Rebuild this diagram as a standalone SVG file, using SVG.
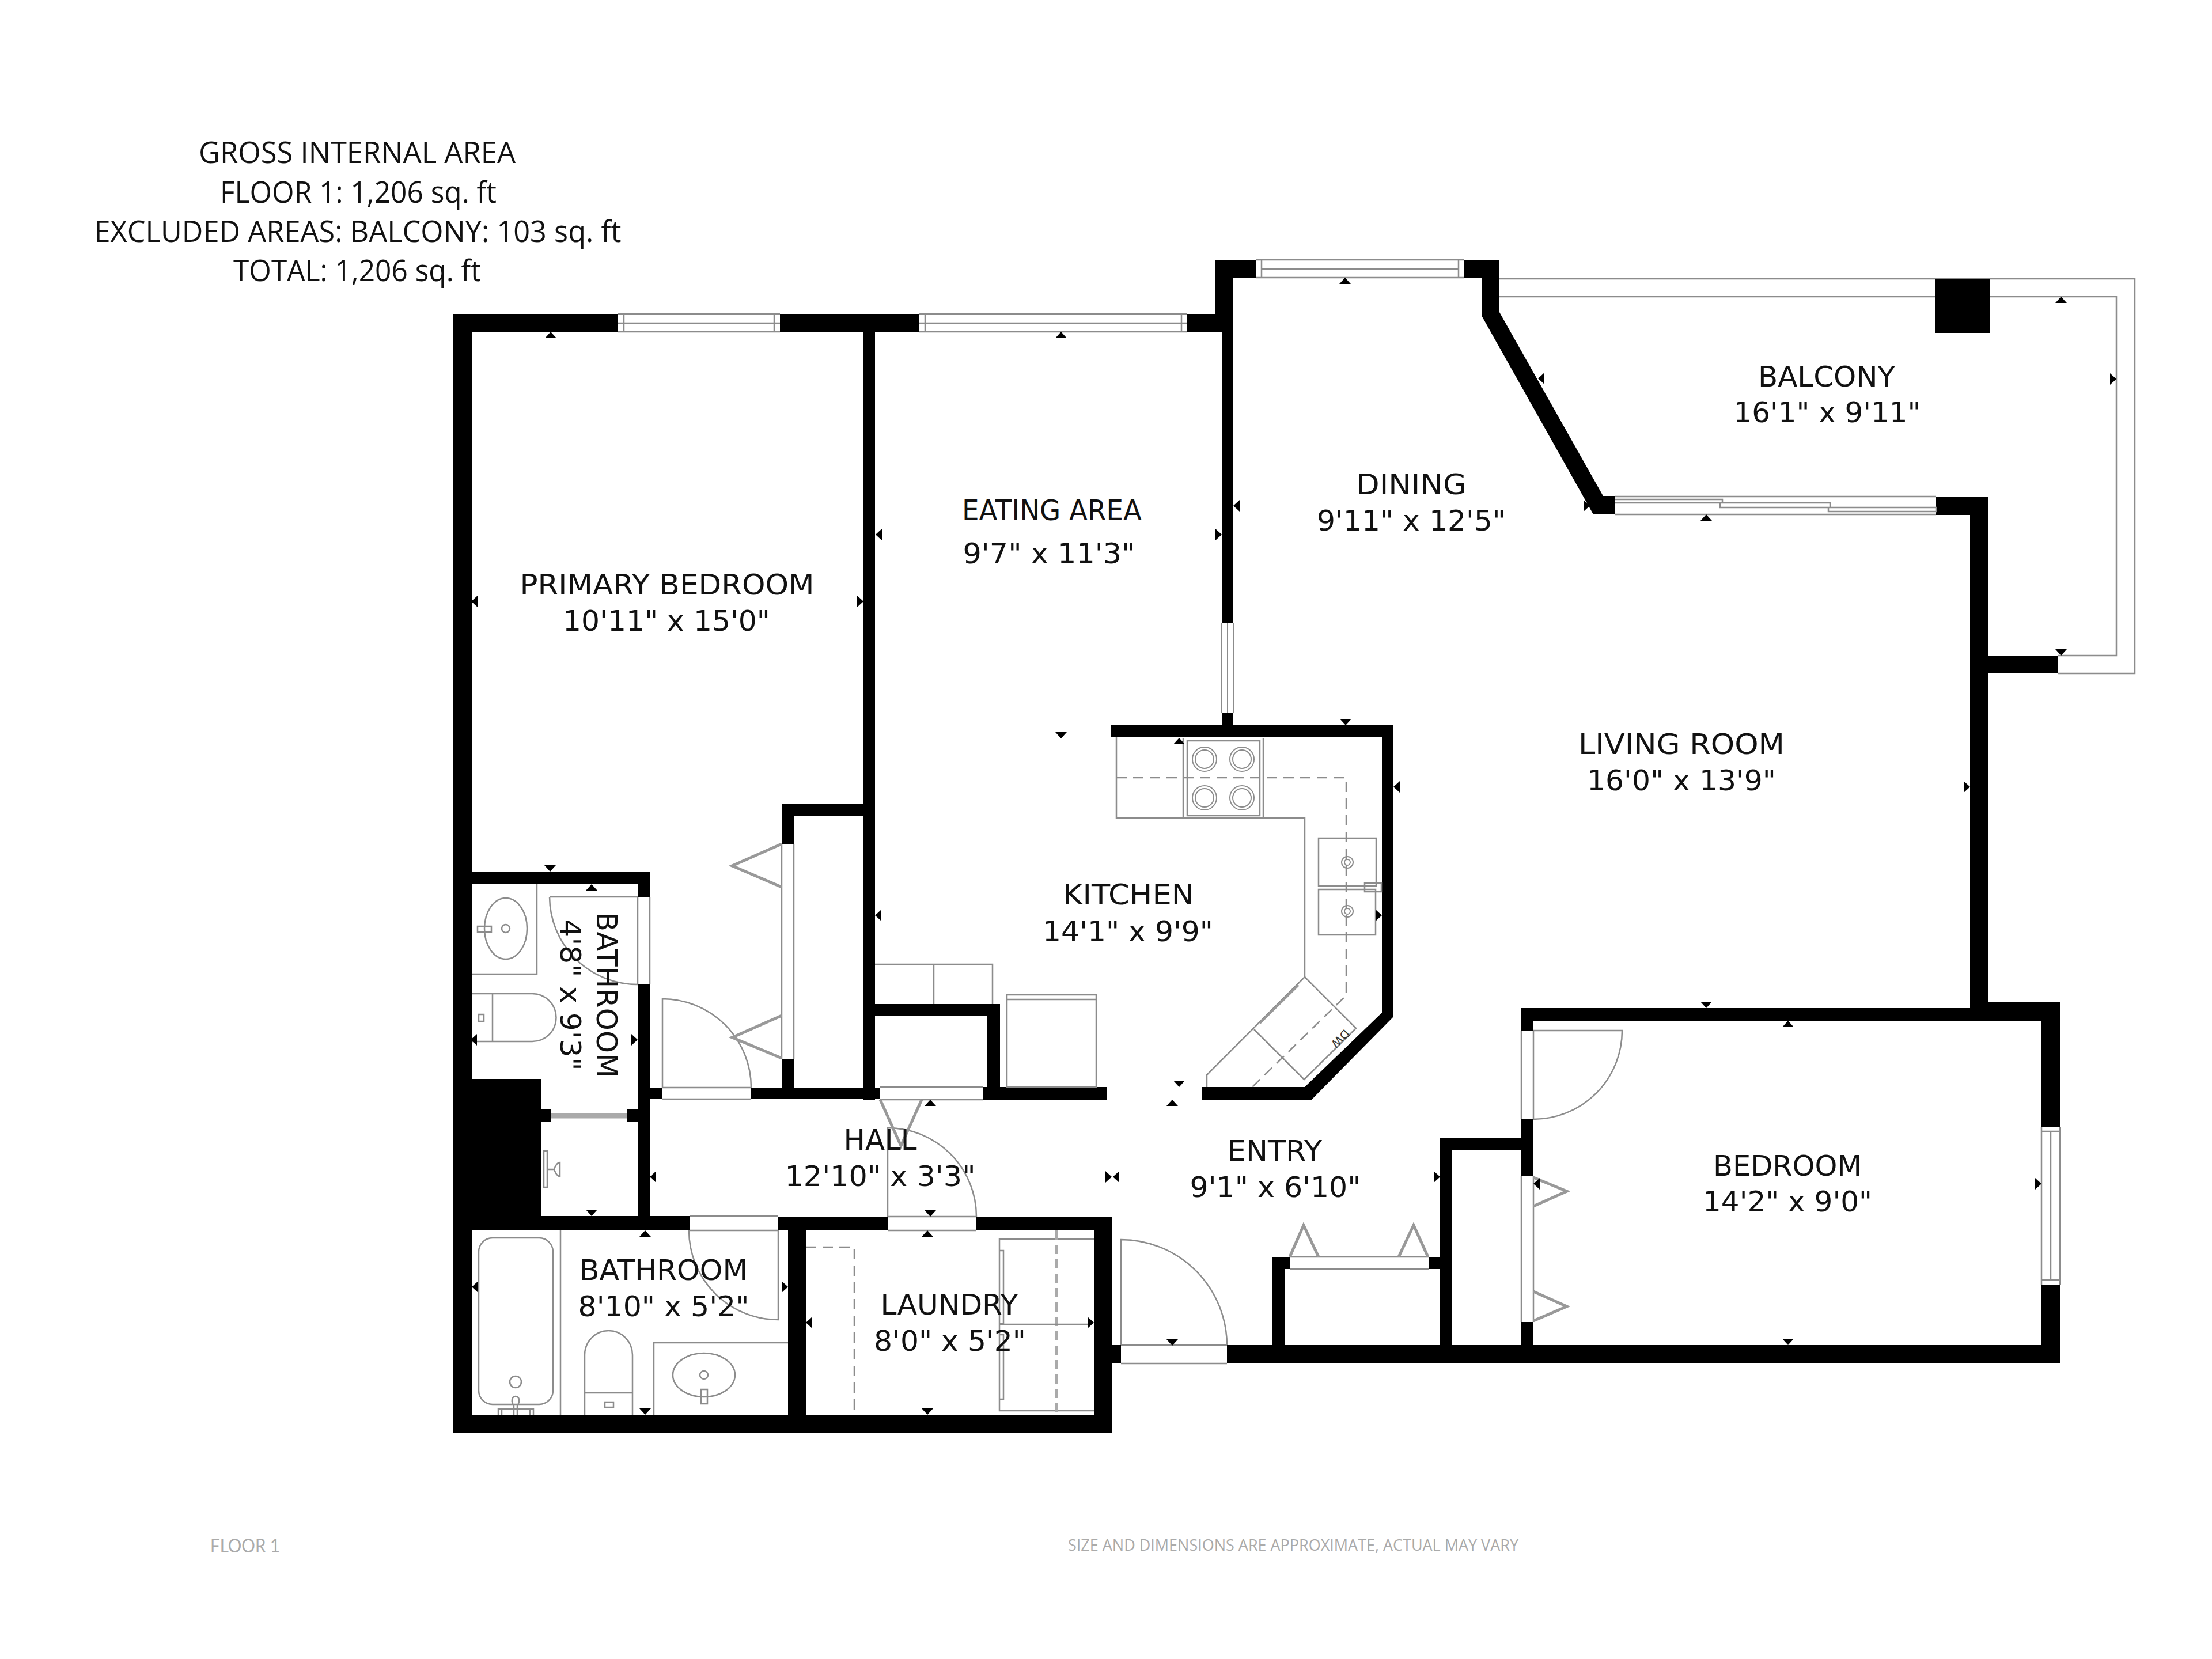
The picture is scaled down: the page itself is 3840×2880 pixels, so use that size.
<svg xmlns="http://www.w3.org/2000/svg" width="3840" height="2880" viewBox="0 0 3840 2880">
<style>
.w{fill:#000}
.l{fill:none;stroke:#8c8c8c;stroke-width:2.5}
.lt{fill:none;stroke:#8c8c8c;stroke-width:2}
.bf{fill:none;stroke:#999;stroke-width:5}
.da{fill:none;stroke:#8c8c8c;stroke-width:2.5;stroke-dasharray:18 11}
.dt{fill:none;stroke:#aaa;stroke-width:5;stroke-dasharray:16 9}
.t{font-family:"DejaVu Sans",sans-serif;font-size:49px;fill:#111;text-anchor:middle}
.h{font-family:"Open Sans",sans-serif;font-size:51px;fill:#111;text-anchor:middle}
.f{font-family:"Lato",sans-serif;font-size:33px;fill:#aaa}
.s{font-family:"Open Sans",sans-serif;font-size:28px;fill:#aaa}
</style>
<defs>
<path id="tu" d="M0 0L10 11H-10Z"/>
<path id="td" d="M0 0L10 -11H-10Z"/>
<path id="tl" d="M0 0L11 -10V10Z"/>
<path id="tr" d="M0 0L-11 -10V10Z"/>
</defs>
<rect width="3840" height="2880" fill="#fff"/>

<g id="balcony-outline">
<path class="l" d="M2603 484H3706V1169H3572M2603 515H3674V1138H3572"/>
</g>

<g id="walls" class="w">
<path d="M787 545H1073V576H819V2456H1899V2136H1695V2112H1931V2487H787Z"/>
<path d="M1354 545H1596V576H1354ZM2061 545H2121V576H2061ZM1498 576H1519V1909H1498Z"/>
<path d="M2110 451H2180V482H2141V1082H2121V545H2110ZM2121 1238H2141V1259H2121Z"/>
<path d="M2541 451H2603V542L2783 861H2803V893H2766L2572 548V482H2541Z"/>
<path d="M1929 1259H2419V1765L2277 1909H2086V1887H2265L2399 1758V1280H1929Z"/>
<path d="M3361 862H3452V1740H3576V1957H3544V1772H2662V1789H2641V1750H3420V894H3361Z"/>
<path d="M3452 1138H3572V1169H3452Z"/>
<path d="M3544 2231H3576V2367H2130V2335H2208V2182H2239V2203H2230V2335H2500V2203H2480V2182H2500V1975H2641V1943H2662V2042H2641V1996H2521V2335H2641V2295H2662V2335H3544Z"/>
<path d="M1930 2335H1946V2367H1930Z"/>
<path d="M819 1514H1128V1557H1107V1534H819Z"/>
<path d="M1107 1709H1128V2136H1107Z"/>
<path d="M787 1873H940V2111H1198V2136H787Z"/>
<path d="M940 1926H957V1947H940ZM1088 1926H1107V1947H1088Z"/>
<path d="M1351 2112H1541V2136H1351ZM1368 2136H1399V2456H1368Z"/>
<path d="M1128 1888H1150V1908H1128ZM1304 1888H1528V1908H1304ZM1706 1887H1922V1909H1706Z"/>
<path d="M1357 1395H1498V1416H1378V1465H1357ZM1357 1839H1378V1888H1357Z"/>
<path d="M1519 1743H1736V1909H1714V1764H1519Z"/>
<path d="M3359 484H3454V578H3359Z"/>
</g>

<g id="windows">
<path class="l" d="M1073 545H1354M1073 561H1354M1073 576H1354M1083 545V576M1344 545V576"/>
<path class="l" d="M1596 545H2061M1596 561H2061M1596 576H2061M1606 545V576M2051 545V576"/>
<path class="l" d="M2180 451H2541M2190 467H2532M2180 482H2541M2190 451V482M2532 451V482"/>
<path class="lt" d="M2121 1082V1238M2131 1082V1238M2141 1082V1238"/>
<path class="l" d="M3544 1957V2231M3560 1964V2222M3576 1957V2231M3544 1964H3576M3544 2222H3576"/>
<path class="l" d="M2803 862H3361M2803 893H3361M2803 867H2990V873H2803M2986 873H3177V881H2986ZM3174 881H3361V888H3174Z"/>
</g>

<g id="doors">
<path class="l" d="M1107 1557V1709M1128 1557V1709M954 1557H1107M954 1557A153 153 0 0 0 1107 1709"/>
<path class="l" d="M1150 1888H1304M1150 1908H1304M1150 1888V1734A154 154 0 0 1 1304 1888"/>
<path class="l" d="M1198 2111H1351M1198 2136H1351M1351 2136V2291A155 155 0 0 1 1196 2136"/>
<path class="l" d="M1541 2112H1695M1541 2136H1695M1541 2112V1958A154 154 0 0 1 1695 2112"/>
<path class="l" d="M1528 1887H1706M1528 1909H1706"/>
<path class="l" d="M1946 2335H2130M1946 2367H2130M1946 2335V2152A184 184 0 0 1 2130 2335"/>
<path class="l" d="M2641 1789V1943M2662 1789V1943M2662 1789H2816A154 154 0 0 1 2662 1943"/>
<path class="l" d="M2239 2182H2480M2239 2203H2480"/>
<path class="l" d="M2641 2042V2295M2662 2042V2295"/>
<path class="l" d="M1357 1465V1839M1378 1465V1839"/>
<path class="bf" d="M1357 1465L1271 1503L1357 1540M1357 1763L1271 1801L1357 1837"/>
<path class="bf" d="M1528 1909L1564 1989L1600 1909"/>
<path class="bf" d="M2239 2182L2263 2127L2289 2182M2428 2182L2454 2127L2479 2182"/>
<path class="bf" d="M2662 2044L2720 2068L2662 2094M2662 2242L2720 2268L2662 2293"/>
<path d="M957 1937H1088" fill="none" stroke="#aaa" stroke-width="9"/>
</g>

<g id="bathroom-1-fixtures">
<path class="l" d="M819 1691H932V1534"/>
<ellipse class="l" cx="878" cy="1612" rx="37" ry="53"/>
<circle class="l" cx="878" cy="1612" r="7"/>
<rect class="l" x="829" y="1608" width="24" height="10"/>
<path class="l" d="M819 1725H924A41.500 41.500 0 0 1 924 1808H819M855 1725V1808"/>
<rect class="l" x="831" y="1761" width="9" height="12"/>
<path class="l" d="M944 1998H950V2061H944ZM950 2030H962M962 2030Q966 2018 972 2018V2042Q966 2042 962 2030"/>
</g>

<g id="bathroom-2-fixtures">
<path class="l" d="M973 2136V2456"/>
<rect class="l" x="831" y="2149" width="129" height="289" rx="24"/>
<ellipse class="l" cx="895" cy="2399" rx="10" ry="10"/>
<path class="l" d="M895 2424C888 2424 887 2434 892 2440V2456M895 2424C902 2424 903 2434 898 2440V2456M865 2456V2446H926V2456M871 2456V2446M920 2456V2446"/>
<path class="l" d="M1015 2456V2352A41.500 42 0 0 1 1098 2352V2456M1015 2418H1098"/>
<rect class="l" x="1050" y="2434" width="15" height="9"/>
<path class="l" d="M1368 2331H1135V2456"/>
<ellipse class="l" cx="1222" cy="2387" rx="54" ry="38"/>
<circle class="l" cx="1222" cy="2387" r="7"/>
<rect class="l" x="1217" y="2412" width="11" height="25"/>
</g>

<g id="laundry-fixtures">
<path class="da" d="M1399 2165H1483V2456"/>
<path class="l" d="M1899 2151H1735V2449H1899"/>
<path class="dt" d="M1834 2136V2456"/>
<path class="l" d="M1735 2171H1742V2298H1735M1735 2317H1742V2429H1735"/>
<path class="l" d="M1735 2299H1893"/>
</g>

<g id="kitchen-fixtures">
<path class="l" d="M1938 1280V1420H2265V1696L2095 1866V1887"/>
<path class="l" d="M2054 1282V1420M2193 1282V1420"/>
<rect class="l" x="2061" y="1286" width="126" height="130"/>
<circle class="lt" cx="2091" cy="1318" r="21"/><circle class="lt" cx="2091" cy="1318" r="16"/>
<circle class="lt" cx="2156" cy="1318" r="21"/><circle class="lt" cx="2156" cy="1318" r="16"/>
<circle class="lt" cx="2091" cy="1385" r="21"/><circle class="lt" cx="2091" cy="1385" r="16"/>
<circle class="lt" cx="2156" cy="1385" r="21"/><circle class="lt" cx="2156" cy="1385" r="16"/>
<path class="da" d="M1938 1350H2337V1728L2174 1887"/>
<rect class="l" x="2289" y="1455" width="100" height="83"/>
<rect class="l" x="2289" y="1544" width="99" height="79"/>
<circle class="lt" cx="2339" cy="1497" r="10"/><circle class="lt" cx="2339" cy="1497" r="5"/>
<circle class="lt" cx="2339" cy="1582" r="10"/><circle class="lt" cx="2339" cy="1582" r="5"/>
<rect class="l" x="2369" y="1533" width="29" height="15"/>
<path class="l" d="M2265 1696L2354 1785L2264 1874L2177 1787"/>
<path d="M2254 1710L2187 1776" fill="none" stroke="#999" stroke-width="4"/>
<text transform="translate(2322 1798) rotate(135)" font-family="DejaVu Sans, sans-serif" font-size="20" fill="#333" text-anchor="middle">DW</text>
<path class="l" d="M1519 1674H1723V1743M1621 1674V1743"/>
<rect class="l" x="1748" y="1727" width="155" height="160"/>
<path class="l" d="M1748 1735H1903"/>
</g>

<g id="dimension-marks" fill="#000">
<use href="#tu" x="956" y="576"/><use href="#tu" x="1842" y="576"/><use href="#tu" x="2335" y="482"/><use href="#tu" x="2962" y="893"/><use href="#tu" x="3578" y="515"/><use href="#tu" x="2047" y="1281"/><use href="#tu" x="1027" y="1535"/><use href="#tu" x="1615" y="1909"/><use href="#tu" x="1610" y="2136"/><use href="#tu" x="1120" y="2136"/><use href="#tu" x="3104" y="1772"/><use href="#tu" x="2035" y="1909"/>
<use href="#td" x="955" y="1513"/><use href="#td" x="1842" y="1282"/><use href="#td" x="2336" y="1259"/><use href="#td" x="2047" y="1887"/><use href="#td" x="1027" y="2111"/><use href="#td" x="1120" y="2456"/><use href="#td" x="1615" y="2112"/><use href="#td" x="1610" y="2456"/><use href="#td" x="2035" y="2336"/><use href="#td" x="2962" y="1750"/><use href="#td" x="3104" y="2335"/><use href="#td" x="3578" y="1138"/>
<use href="#tl" x="818" y="1044"/><use href="#tl" x="1520" y="928"/><use href="#tl" x="2141" y="878"/><use href="#tl" x="1519" y="1589"/><use href="#tl" x="2419" y="1366"/><use href="#tl" x="2670" y="657"/><use href="#tl" x="817" y="1805"/><use href="#tl" x="1128" y="2043"/><use href="#tl" x="819" y="2234"/><use href="#tl" x="1399" y="2296"/><use href="#tl" x="1932" y="2043"/><use href="#tl" x="2662" y="2055"/>
<use href="#tr" x="1499" y="1044"/><use href="#tr" x="2121" y="928"/><use href="#tr" x="2760" y="878"/><use href="#tr" x="2399" y="1589"/><use href="#tr" x="3420" y="1366"/><use href="#tr" x="3674" y="658"/><use href="#tr" x="1107" y="1805"/><use href="#tr" x="1368" y="2234"/><use href="#tr" x="1899" y="2296"/><use href="#tr" x="2500" y="2043"/><use href="#tr" x="3544" y="2055"/><use href="#tr" x="1930" y="2043"/>
</g>

<g id="summary" lengthAdjust="spacingAndGlyphs"><text class="h" x="620" y="283" textLength="550" lengthAdjust="spacingAndGlyphs">GROSS INTERNAL AREA</text><text class="h" x="622" y="352" textLength="480" lengthAdjust="spacingAndGlyphs">FLOOR 1: 1,206 sq. ft</text><text class="h" x="621" y="420" textLength="915" lengthAdjust="spacingAndGlyphs">EXCLUDED AREAS: BALCONY: 103 sq. ft</text><text class="h" x="620" y="488" textLength="430" lengthAdjust="spacingAndGlyphs">TOTAL: 1,206 sq. ft</text></g>
<g id="room-primary-bedroom"><text class="t" x="1158" y="1032" textLength="511" lengthAdjust="spacingAndGlyphs">PRIMARY BEDROOM</text><text class="t" x="1157" y="1095" textLength="360" lengthAdjust="spacingAndGlyphs">10'11" x 15'0"</text></g>
<g id="room-eating-area"><text class="t" x="1826" y="903" textLength="312" lengthAdjust="spacingAndGlyphs">EATING AREA</text><text class="t" x="1821" y="978" textLength="299" lengthAdjust="spacingAndGlyphs">9'7" x 11'3"</text></g>
<g id="room-dining"><text class="t" x="2450" y="858" textLength="192" lengthAdjust="spacingAndGlyphs">DINING</text><text class="t" x="2450" y="921" textLength="328" lengthAdjust="spacingAndGlyphs">9'11" x 12'5"</text></g>
<g id="room-balcony"><text class="t" x="3171" y="671" textLength="238" lengthAdjust="spacingAndGlyphs">BALCONY</text><text class="t" x="3172" y="733" textLength="325" lengthAdjust="spacingAndGlyphs">16'1" x 9'11"</text></g>
<g id="room-living-room"><text class="t" x="2919" y="1309" textLength="358" lengthAdjust="spacingAndGlyphs">LIVING ROOM</text><text class="t" x="2919" y="1372" textLength="328" lengthAdjust="spacingAndGlyphs">16'0" x 13'9"</text></g>
<g id="room-kitchen"><text class="t" x="1959" y="1570" textLength="228" lengthAdjust="spacingAndGlyphs">KITCHEN</text><text class="t" x="1958" y="1634" textLength="296" lengthAdjust="spacingAndGlyphs">14'1" x 9'9"</text></g>
<g id="room-bedroom"><text class="t" x="3103" y="2041" textLength="258" lengthAdjust="spacingAndGlyphs">BEDROOM</text><text class="t" x="3103" y="2103" textLength="294" lengthAdjust="spacingAndGlyphs">14'2" x 9'0"</text></g>
<g id="room-entry"><text class="t" x="2213" y="2015" textLength="164" lengthAdjust="spacingAndGlyphs">ENTRY</text><text class="t" x="2214" y="2078" textLength="297" lengthAdjust="spacingAndGlyphs">9'1" x 6'10"</text></g>
<g id="room-bathroom-2"><text class="t" x="1152" y="2222" textLength="292" lengthAdjust="spacingAndGlyphs">BATHROOM</text><text class="t" x="1152" y="2285" textLength="297" lengthAdjust="spacingAndGlyphs">8'10" x 5'2"</text></g>
<g id="room-laundry"><text class="t" x="1648" y="2282" textLength="239" lengthAdjust="spacingAndGlyphs">LAUNDRY</text><text class="t" x="1649" y="2345" textLength="264" lengthAdjust="spacingAndGlyphs">8'0" x 5'2"</text></g>
<g id="room-hall"><text class="t" x="1528" y="1996" textLength="127" lengthAdjust="spacingAndGlyphs">HALL</text><text class="t" x="1528" y="2059" textLength="331" lengthAdjust="spacingAndGlyphs">12'10" x 3'3"</text></g>
<g id="room-bathroom-1"><text class="t" transform="translate(1036 1727) rotate(90)" textLength="288" lengthAdjust="spacingAndGlyphs">BATHROOM</text><text class="t" transform="translate(973 1727) rotate(90)" textLength="263" lengthAdjust="spacingAndGlyphs">4'8" x 9'3"</text></g>
<g id="footer"><text class="f" x="365" y="2695" textLength="121" lengthAdjust="spacingAndGlyphs">FLOOR 1</text><text class="s" x="1854" y="2692" textLength="782" lengthAdjust="spacingAndGlyphs">SIZE AND DIMENSIONS ARE APPROXIMATE, ACTUAL MAY VARY</text></g>
</svg>
